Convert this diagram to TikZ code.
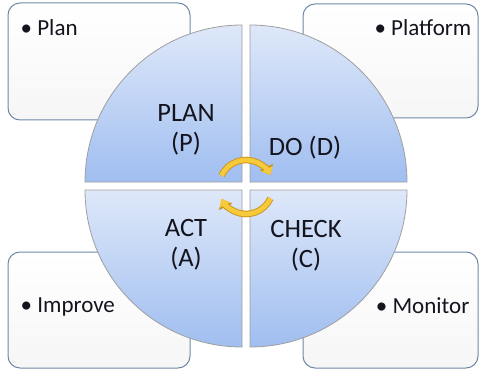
\documentclass[tikz,border=0pt]{standalone}
\usepackage{fontspec}
\setmainfont{Carlito}
\usetikzlibrary{arrows.meta,positioning}
\definecolor{qtop}{RGB}{222,232,249}
\definecolor{qbot}{RGB}{160,190,240}
\definecolor{boxedge}{RGB}{112,136,168}
\definecolor{cycgold}{RGB}{247,202,60}
\definecolor{cycedge}{RGB}{206,152,32}
\definecolor{ink}{RGB}{20,20,30}
\tikzset{
  quad/.style={draw=gray!75,line width=0.8pt,top color=qtop,bottom color=qbot},
  infobox/.style={draw=boxedge,line width=1pt,rounded corners=12pt,top color=white,bottom color=gray!7,inner sep=0pt},
  lbl/.style={align=center,text=ink,font=\fontsize{26.5}{30}\selectfont},
  itm/.style={inner sep=0pt,text=ink,font=\fontsize{23}{26}\selectfont},
  cycout/.style={line width=6.6pt,cycedge,-{Triangle[length=9pt,width=14.5pt]}},
  cycin/.style={line width=4.6pt,cycgold,-{Triangle[length=7pt,width=11.5pt]}},
}
\begin{document}
\begin{tikzpicture}[x=1pt,y=1pt]
 \useasboundingbox (0,0) rectangle (479,370);
 % side boxes
 \node[infobox,minimum width=182pt,minimum height=117pt] (planbox) at (99,308.5) {};
 \node[infobox,minimum width=175pt,minimum height=114pt] (dobox) at (390.5,309) {};
 \node[infobox,minimum width=182pt,minimum height=116pt] (actbox) at (99,60) {};
 \node[infobox,minimum width=175pt,minimum height=116pt] (checkbox) at (390.5,60) {};
 \node[itm,anchor=west] (plan) at ([shift={(13pt,-25pt)}]planbox.north west) {\textbullet\ Plan};
 \node[itm,anchor=east] (platform) at ([shift={(-7pt,-24pt)}]dobox.north east) {\textbullet\ Platform};
 \node[itm,anchor=west] (improve) at ([shift={(13pt,3pt)}]actbox.west) {\textbullet\ Improve};
 \node[itm,anchor=east] (monitor) at ([shift={(-9pt,4pt)}]checkbox.east) {\textbullet\ Monitor};
 % quadrants
 \draw[quad] (242,188) -- ++(-157,0) arc[start angle=180,end angle=90,radius=157pt] -- cycle;
 \draw[quad] (250,188) -- ++(0,157) arc[start angle=90,end angle=0,radius=157pt] -- cycle;
 \draw[quad] (242,180) -- ++(0,-157) arc[start angle=270,end angle=180,radius=157pt] -- cycle;
 \draw[quad] (250,180) -- ++(157,0) arc[start angle=0,end angle=-90,radius=157pt] -- cycle;
 \node[lbl] (p) at (186,240) {PLAN\\(P)};
 \node[lbl] (d) at (305,222) {DO (D)};
 \node[lbl] (a) at (186,125) {ACT\\(A)};
 \node[lbl] (c) at (306,124) {CHECK\\(C)};
 % cycle arrows
 \coordinate (cyc) at (246,183);
 \draw[cycout] ([shift={(155:27pt)}]cyc) arc[start angle=155,end angle=26,radius=27pt];
 \draw[cycin] ([shift={(155:27pt)}]cyc) arc[start angle=155,end angle=26,radius=27pt];
 \draw[cycout] ([shift={(-25:27pt)}]cyc) arc[start angle=-25,end angle=-154,radius=27pt];
 \draw[cycin] ([shift={(-25:27pt)}]cyc) arc[start angle=-25,end angle=-154,radius=27pt];
\end{tikzpicture}
\end{document}
